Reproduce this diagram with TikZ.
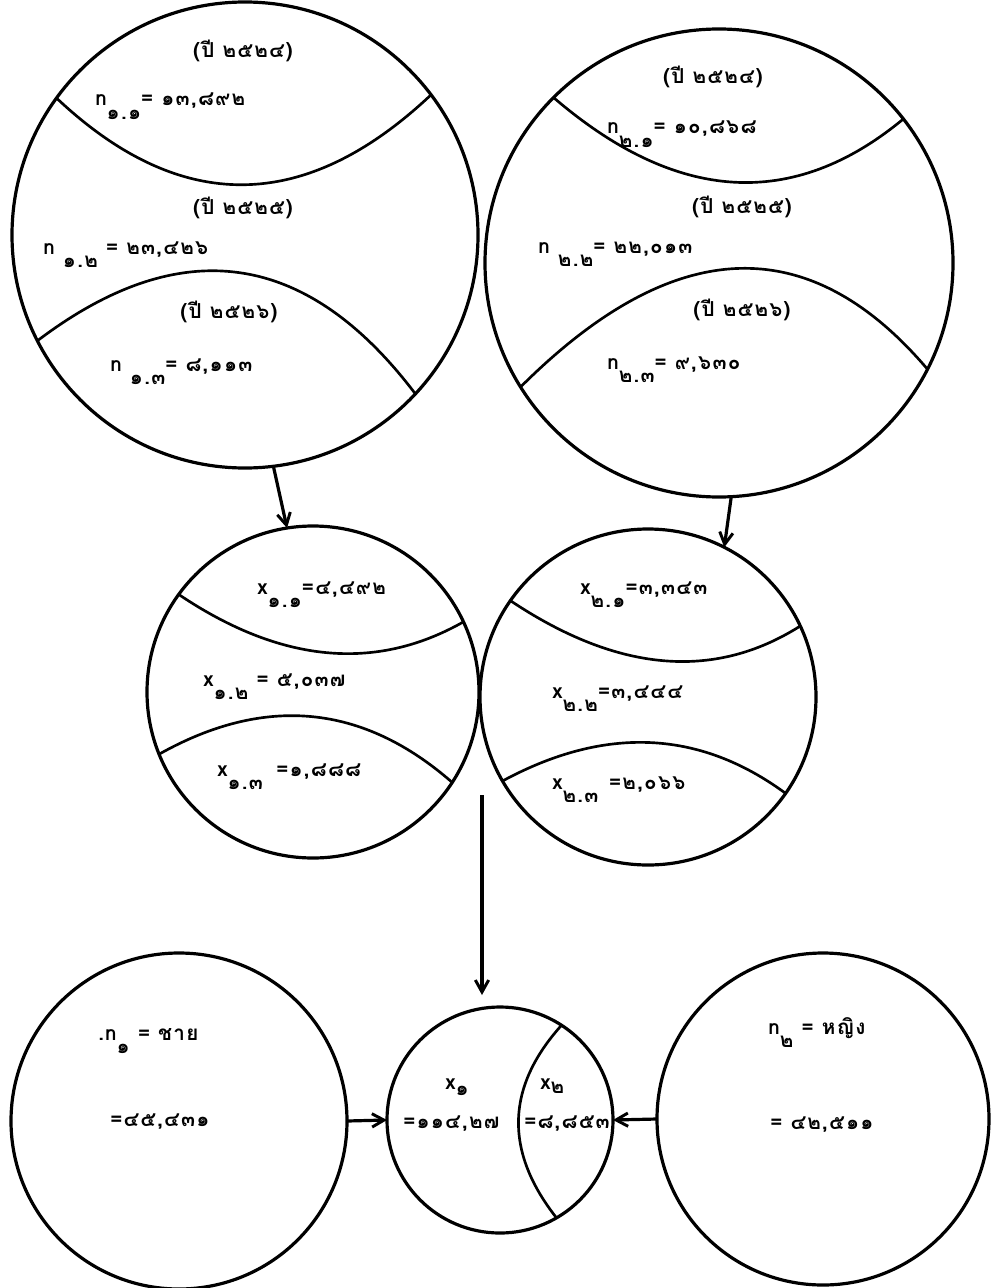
\documentclass[tikz,border=0pt]{standalone}
\usepackage{fontspec}
\usetikzlibrary{arrows.meta,calc}
\newfontfamily\thaifont[Script=Thai,LetterSpace=6]{Loma}
\newcommand{\lowr}[1]{\raisebox{-10pt}{#1}}
\begin{document}
\begin{tikzpicture}[x=0.0264cm,y=-0.0264cm,
  ring/.style={circle,draw,line width=2.4pt,inner sep=0pt,outer sep=0pt},
  divide/.style={line width=2pt},
  txt/.style={font=\thaifont\bfseries\fontsize{15.5}{17}\selectfont,inner sep=0pt,anchor=base west},
  yr/.style={font=\thaifont\bfseries\fontsize{15.5}{17}\selectfont,inner sep=0pt,anchor=base},
  flow/.style={line width=2.4pt,-{Straight Barb[length=9pt,width=10pt,line width=2.2pt]}}
]
\useasboundingbox[fill=white] (0,0) rectangle (991,1288);

% circles
\node[ring,minimum size=466*0.0264cm] (tl) at (245,235) {};
\node[ring,minimum size=468*0.0264cm] (tr) at (719,263) {};
\node[ring,minimum size=332*0.0264cm] (ml) at (313,692) {};
\node[ring,minimum size=336*0.0264cm] (mr) at (648,697) {};
\node[ring,minimum size=336*0.0264cm] (bl) at (179,1121) {};
\node[ring,minimum size=226*0.0264cm] (cb) at (500,1120) {};
\node[ring,minimum size=332*0.0264cm] (br) at (823,1119) {};

% control points of dividing arcs
\coordinate (tlu) at (242,273);
\coordinate (tld) at (252,178);
\coordinate (tru) at (738,256);
\coordinate (trd) at (749,159);
\coordinate (mlu) at (331,697);
\coordinate (mld) at (318,665);
\coordinate (mru) at (671,708);
\coordinate (mrd) at (656,698);
\coordinate (cbc) at (478,1118);

\draw[divide] (tl.144.6) .. controls ($(tl.144.6)!0.667!(tlu)$) and ($(tl.37.7)!0.667!(tlu)$) .. (tl.37.7);
\draw[divide] (tl.207.6) .. controls ($(tl.207.6)!0.667!(tld)$) and ($(tl.317)!0.667!(tld)$) .. (tl.317);
\draw[divide] (tr.135.5) .. controls ($(tr.135.5)!0.667!(tru)$) and ($(tr.38.8)!0.667!(tru)$) .. (tr.38.8);
\draw[divide] (tr.212.8) .. controls ($(tr.212.8)!0.667!(trd)$) and ($(tr.333.3)!0.667!(trd)$) .. (tr.333.3);
\draw[divide] (ml.144.5) .. controls ($(ml.144.5)!0.667!(mlu)$) and ($(ml.25.3)!0.667!(mlu)$) .. (ml.25.3);
\draw[divide] (ml.202.4) .. controls ($(ml.202.4)!0.667!(mld)$) and ($(ml.327.6)!0.667!(mld)$) .. (ml.327.6);
\draw[divide] (mr.145.9) .. controls ($(mr.145.9)!0.667!(mru)$) and ($(mr.25)!0.667!(mru)$) .. (mr.25);
\draw[divide] (mr.210.4) .. controls ($(mr.210.4)!0.667!(mrd)$) and ($(mr.325)!0.667!(mrd)$) .. (mr.325);
\draw[divide] (cb.57.3) .. controls ($(cb.57.3)!0.667!(cbc)$) and ($(cb.300.5)!0.667!(cbc)$) .. (cb.300.5);

% texts top-left
\node[yr] (tly1) at (243,58) {(ปี ๒๕๒๔)};
\node[txt] (tln1) at (95,106) {n\lowr{๑.๑}= ๑๓,๘๙๒};
\node[yr] (tly2) at (243,214) {(ปี ๒๕๒๕)};
\node[txt] (tln2) at (43,254) {n \lowr{๑.๒} = ๒๓,๔๒๖};
\node[yr] (tly3) at (229,318) {(ปี ๒๕๒๖)};
\node[txt] (tln3) at (110,371) {n \lowr{๑.๓}= ๘,๑๑๓};

% texts top-right
\node[yr] (try1) at (713,83) {(ปี ๒๕๒๔)};
\node[txt] (trn1) at (607,134) {n\lowr{๒.๑}= ๑๐,๘๖๘};
\node[yr] (try2) at (742,213) {(ปี ๒๕๒๕)};
\node[txt] (trn2) at (538,253) {n \lowr{๒.๒}= ๒๒,๐๑๓};
\node[yr] (try3) at (742,316) {(ปี ๒๕๒๖)};
\node[txt] (trn3) at (607,369) {n\lowr{๒.๓}= ๙,๖๓๐};

% texts middle-left
\node[txt] (mlx1) at (257,594) {x\lowr{๑.๑}=๔,๔๙๒};
\node[txt] (mlx2) at (203,686) {x\lowr{๑.๒} = ๕,๐๓๗};
\node[txt] (mlx3) at (217,776) {x\lowr{๑.๓}\hspace{10pt}=๑,๘๘๘};

% texts middle-right
\node[txt] (mrx1) at (580,594) {x\lowr{๒.๑}=๓,๓๔๓};
\node[txt] (mrx2) at (552,698) {x\lowr{๒.๒}=๓,๔๔๔};
\node[txt] (mrx3) at (552,789) {x\lowr{๒.๓}\hspace{8pt}=๒,๐๖๖};

% bottom texts
\node[txt] (bln) at (98,1040) {.n\lowr{๑} = ชาย};
\node[txt] (blv) at (110,1126) {=๔๕,๔๓๑};
\node[txt] (cbx1) at (445,1089) {x\raisebox{-5pt}{๑}};
\node[txt] (cbx2) at (540,1089) {x\raisebox{-3pt}{๒}};
\node[txt] (cbv1) at (403,1128) {=๑๑๔,๒๗};
\node[txt] (cbv2) at (524,1128) {=๘,๘๕๓};
\node[txt] (brn) at (768,1034) {n\lowr{๒} = หญิง};
\node[txt] (brv) at (770,1129) {= ๔๒,๕๑๑};

% connectors
\coordinate (dstart) at (482,795);
\coordinate (dend) at (482,995);
\draw[flow] (tl.277.4) -- (ml.99);
\draw[flow] (tr.273.5) -- (mr.63.1);
\draw[flow] (dstart) -- (dend);
\draw[flow] (bl.east) -- (cb.west);
\draw[flow] (br.west) -- (cb.east);
\end{tikzpicture}
\end{document}
